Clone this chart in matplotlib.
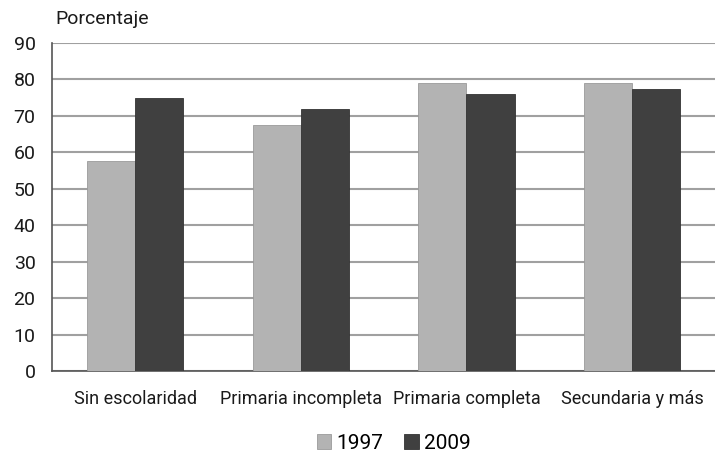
import matplotlib

matplotlib.use("Agg")
import matplotlib.pyplot as plt
import numpy as np

plt.rcParams["font.family"] = ["Roboto", "DejaVu Sans"]

categories = ["Sin escolaridad", "Primaria incompleta", "Primaria completa", "Secundaria y más"]
series_names = ["1997", "2009"]
values_1997 = [57.5, 67.4, 78.9, 78.9]
values_2009 = [75.0, 71.9, 76.1, 77.3]
yticks = [0, 10, 20, 30, 40, 50, 60, 70, 80, 90]

colors = ["#b3b3b3", "#404040"]

fig = plt.figure(figsize=(7.15, 4.58), dpi=100)
ax = fig.add_axes([0.073, 0.19, 0.927, 0.716])

x = np.arange(len(categories))
w = 0.29
ax.bar(x - w / 2, values_1997, w, color=colors[0], edgecolor="#9a9a9a", linewidth=0.6,
       label=series_names[0], zorder=3)
ax.bar(x + w / 2, values_2009, w, color=colors[1], edgecolor="#333333", linewidth=0.6,
       label=series_names[1], zorder=3)

ax.set_xlim(-0.5, len(categories) - 0.5)
ax.set_ylim(0, 90)
ax.set_yticks(yticks)
ax.set_xticks(x)
ax.set_xticklabels(categories, fontsize=13)
ax.tick_params(axis="both", length=0, colors="#1a1a1a")
ax.tick_params(axis="y", labelsize=14, pad=12)
ax.tick_params(axis="x", pad=14)
ax.grid(axis="y", color="#a0a0a0", linewidth=1.5, zorder=0)

for side in ["top", "right"]:
    ax.spines[side].set_visible(False)
ax.spines["left"].set_color("#555555")
ax.spines["left"].set_linewidth(1.2)
ax.spines["bottom"].set_color("#555555")
ax.spines["bottom"].set_linewidth(1.2)

fig.text(0.078, 0.958, "Porcentaje", fontsize=14, color="#1a1a1a", va="center", ha="left")

ax.legend(loc="center", bbox_to_anchor=(0.515, -0.22), ncol=2, frameon=False,
          fontsize=15, handlelength=0.7, handleheight=0.7, handletextpad=0.25,
          columnspacing=1.0)

fig.savefig("out.png", dpi=100)
